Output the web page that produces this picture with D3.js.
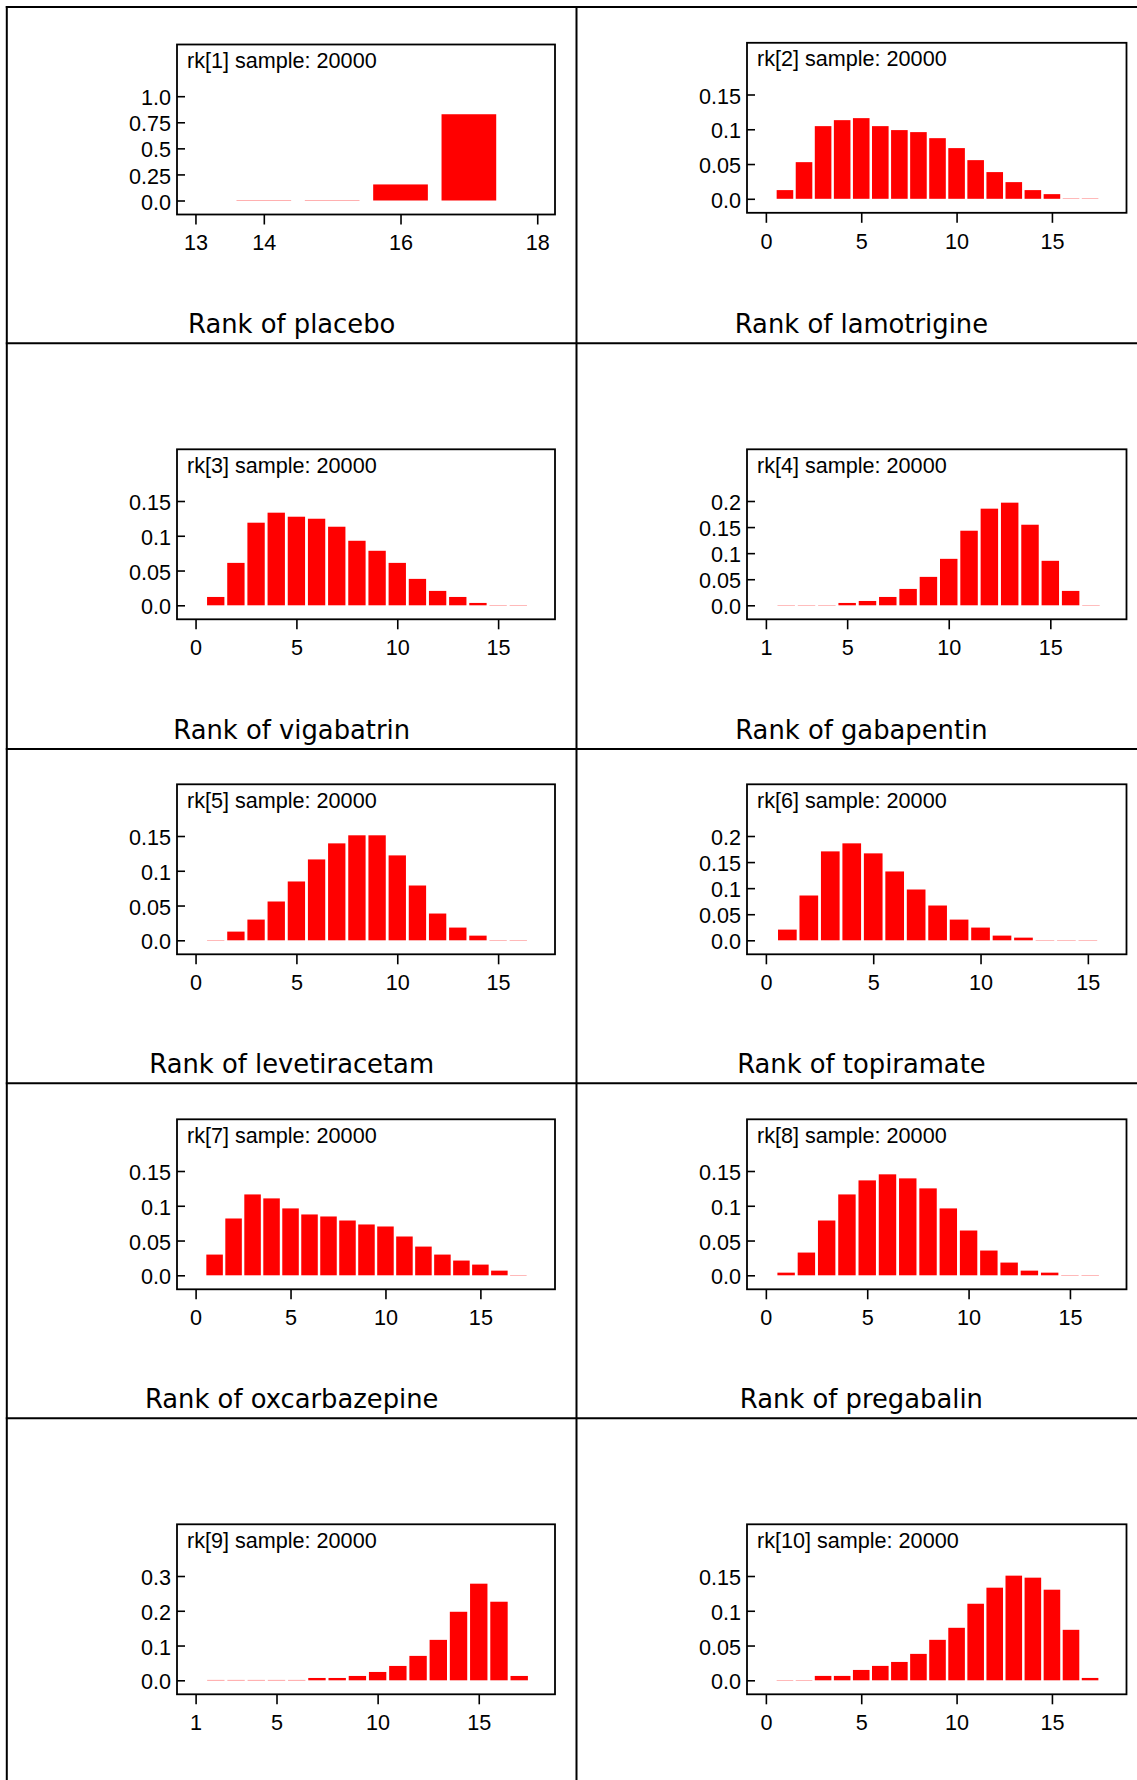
<!DOCTYPE html>
<html>
<head>
<meta charset="utf-8">
<script src="https://cdn.jsdelivr.net/npm/d3@7/dist/d3.min.js"></script>
<style>
  html, body { margin: 0; padding: 0; background: #fff; }
  svg { display: block; }
</style>
</head>
<body>
<svg id="chart" width="1137" height="1780"></svg>
<script>
// ---------------- data ----------------
const panelTitles = ["rk[1] sample: 20000","rk[2] sample: 20000","rk[3] sample: 20000","rk[4] sample: 20000","rk[5] sample: 20000",
                     "rk[6] sample: 20000","rk[7] sample: 20000","rk[8] sample: 20000","rk[9] sample: 20000","rk[10] sample: 20000"];
const drugLabels = ["Rank of placebo","Rank of lamotrigine","Rank of vigabatrin","Rank of gabapentin",
                    "Rank of levetiracetam","Rank of topiramate","Rank of oxcarbazepine","Rank of pregabalin"];

// first rank shown in each panel
const rankStart = [14, 1, 1, 2, 1, 1, 1, 1, 2, 1];

const rk1  = [0.003, 0.003, 0.154, 0.827];
const rk2  = [0.0125,0.0527,0.1045,0.1131,0.116,0.1045,0.0988,0.0959,0.0872,0.0729,0.0556,0.0384,0.024,0.0125,0.0067,0.0004,0.0004];
const rk3  = [0.012,0.061,0.1188,0.1332,0.1274,0.1245,0.113,0.0928,0.0784,0.061,0.038,0.0207,0.012,0.0034,0.0004,0.0004];
const rk4  = [0.0005,0.0005,0.0005,0.0045,0.0083,0.016,0.0314,0.0545,0.0891,0.143,0.1853,0.1968,0.1545,0.0853,0.0276,0.0005];
const rk5  = [0.0004,0.0125,0.0298,0.0558,0.0846,0.1163,0.1394,0.151,0.151,0.1221,0.0788,0.0385,0.0183,0.0067,0.0004,0.0004];
const rk6  = [0.0205,0.0859,0.1705,0.1859,0.1667,0.132,0.0974,0.0667,0.0397,0.0244,0.009,0.0051,0.0005,0.0005,0.0005];
const rk7  = [0.0298,0.0817,0.1163,0.1106,0.0962,0.0875,0.0846,0.0788,0.0731,0.0702,0.0558,0.0413,0.0298,0.0212,0.0154,0.0067,0.0004];
const rk8  = [0.0038,0.0327,0.0788,0.1163,0.1365,0.1452,0.1394,0.125,0.0962,0.0644,0.0356,0.0183,0.0067,0.0038,0.0004,0.0004];
const rk9  = [0.001,0.001,0.001,0.001,0.001,0.0067,0.0067,0.0125,0.024,0.0413,0.0702,0.1163,0.1971,0.2779,0.226,0.0125];
const rk10 = [0.0004,0.0004,0.0063,0.0063,0.0149,0.0207,0.0264,0.038,0.0582,0.0755,0.1101,0.1332,0.1505,0.1476,0.1303,0.0726,0.0034];
const seriesValues = [rk1, rk2, rk3, rk4, rk5, rk6, rk7, rk8, rk9, rk10];

// tick values / labels
const yTicksA = [0, 0.25, 0.5, 0.75, 1.0];   const yLabelsA = ["0.0","0.25","0.5","0.75","1.0"];
const yTicksB = [0, 0.05, 0.1, 0.15];        const yLabelsB = ["0.0","0.05","0.1","0.15"];
const yTicksC = [0, 0.05, 0.1, 0.15, 0.2];   const yLabelsC = ["0.0","0.05","0.1","0.15","0.2"];
const yTicksD = [0, 0.1, 0.2, 0.3];          const yLabelsD = ["0.0","0.1","0.2","0.3"];
const xTicksA = [13, 14, 16, 18];
const xTicksB = [0, 5, 10, 15];
const xTicksC = [1, 5, 10, 15];

const yTickSets  = [yTicksA, yTicksB, yTicksB, yTicksC, yTicksB, yTicksC, yTicksB, yTicksB, yTicksD, yTicksB];
const yLabelSets = [yLabelsA, yLabelsB, yLabelsB, yLabelsC, yLabelsB, yLabelsC, yLabelsB, yLabelsB, yLabelsD, yLabelsB];
const xTickSets  = [xTicksA, xTicksB, xTicksB, xTicksC, xTicksB, xTicksB, xTicksB, xTicksB, xTicksC, xTicksB];

// ---------------- layout ----------------
const xDomains = [[12.73, 18.26], [-0.99, 18.91], [-0.92, 17.82], [0.07, 18.75], [-0.92, 17.82],
                  [-0.88, 16.8], [-0.98, 18.93], [-0.93, 17.79], [0.08, 18.77], [-0.99, 18.91]];
const barFrac = [0.8, 0.87, 0.86, 0.86, 0.86, 0.87, 0.87, 0.86, 0.86, 0.87];
const colLeft = [177, 747];
const boxW = [378, 379.5];
const boxH = 170;
const rowTop = [[44.5, 42.8], [449.3, 449.3], [784.3, 784.3], [1119.3, 1119.3], [1524.3, 1524.3]];
const hLines = [7, 343.3, 749, 1083.3, 1418.3];
const vLines = [6.8, 576.5];
const cellW = 569.8;
const tickFont = "'Liberation Sans', Arial, Helvetica, sans-serif";
const labelFont = "'DejaVu Sans', sans-serif";
const tickSize = 21.6;

const svg = d3.select("#chart");
svg.append("rect").attr("width", 1137).attr("height", 1780).attr("fill", "#fff");

// table grid
hLines.forEach(y => svg.append("line").attr("x1", 5.8).attr("x2", 1137).attr("y1", y).attr("y2", y)
  .attr("stroke", "#000").attr("stroke-width", 2));
vLines.forEach(x => svg.append("line").attr("x1", x).attr("x2", x).attr("y1", 6).attr("y2", 1780)
  .attr("stroke", "#000").attr("stroke-width", 2));

seriesValues.forEach((vals, i) => {
  const row = Math.floor(i / 2), col = i % 2;
  const left = colLeft[col], top = rowTop[row][col], w = boxW[col];
  const bottom = top + boxH;
  const g = svg.append("g");

  const yTicks = yTickSets[i];
  const yMax = yTicks[yTicks.length - 1];
  const y = d3.scaleLinear().domain([0, yMax]).range([bottom - 14, top + 51.7]);
  const x = d3.scaleLinear().domain(xDomains[i]).range([left, left + w]);

  const data = vals.map((v, k) => ({ rank: rankStart[i] + k, v }));
  const bw = barFrac[i] * (x(1) - x(0));

  g.selectAll("rect.bar").data(data).join("rect")
    .attr("class", "bar")
    .attr("x", d => x(d.rank) - bw / 2)
    .attr("width", bw)
    .attr("y", d => y(d.v))
    .attr("height", d => y(0) - y(d.v))
    .attr("fill", "#ff0000");

  // y axis (ticks inward)
  const yAxis = d3.axisLeft(y).tickValues(yTicks)
    .tickFormat((d, k) => yLabelSets[i][k])
    .tickSizeInner(-8).tickSizeOuter(0).tickPadding(6);
  const ga = g.append("g").attr("transform", `translate(${left},0)`).call(yAxis);
  ga.select(".domain").remove();
  ga.selectAll("line").attr("stroke", "#000").attr("stroke-width", 1.6);
  ga.selectAll("text").attr("font-family", tickFont).attr("font-size", tickSize).attr("fill", "#000")
    .attr("dy", "0.4em");

  // x axis (ticks outward, below box)
  const xAxis = d3.axisBottom(x).tickValues(xTickSets[i]).tickFormat(d3.format("d"))
    .tickSizeInner(10).tickSizeOuter(0).tickPadding(10.5);
  const gx = g.append("g").attr("transform", `translate(0,${bottom})`).call(xAxis);
  gx.select(".domain").remove();
  gx.selectAll("line").attr("stroke", "#000").attr("stroke-width", 1.6);
  gx.selectAll("text").attr("font-family", tickFont).attr("font-size", tickSize).attr("fill", "#000");

  // frame
  g.append("rect").attr("x", left).attr("y", top).attr("width", w).attr("height", boxH)
    .attr("fill", "none").attr("stroke", "#000").attr("stroke-width", 1.8);

  // panel title
  g.append("text").attr("x", left + 10).attr("y", top + 23.4)
    .attr("font-family", tickFont).attr("font-size", tickSize).attr("fill", "#000")
    .text(panelTitles[i]);

  // bottom label
  if (i < drugLabels.length) {
    const cx = vLines[col] + cellW / 2;
    g.append("text").attr("x", cx).attr("y", hLines[row + 1] - 10)
      .attr("text-anchor", "middle")
      .attr("font-family", labelFont).attr("font-size", 25.8).attr("fill", "#000")
      .text(drugLabels[i]);
  }
});
</script>
</body>
</html>
